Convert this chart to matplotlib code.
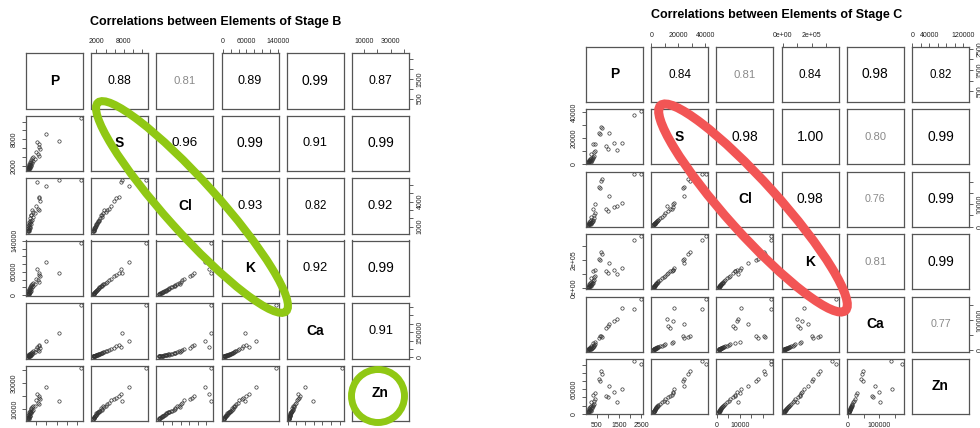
import numpy as np
import matplotlib.pyplot as plt
from matplotlib.patches import Ellipse

plt.rcParams['font.family'] = ['Liberation Sans', 'DejaVu Sans']

W, H = 980, 428  # figure size in pixels
elements = ['P', 'S', 'Cl', 'K', 'Ca', 'Zn']

# ---- Stage B samples ----
b_P = [2690, 985, 1617, 530, 660, 620, 700, 500, 570, 650, 370, 290, 440, 230, 330, 260, 180, 310,
       220, 150, 270, 200, 130, 240, 170, 120, 210, 140, 190, 115, 160, 125, 145, 110, 135, 120]
b_S = [12900, 9200, 7600, 7300, 7000, 6300, 5900, 5100, 4700, 4300, 4000, 3700, 3500, 3300, 3100, 2900, 2800, 2600,
       2500, 2400, 2300, 2200, 2100, 2000, 1900, 1850, 1750, 1700, 1600, 1550, 1500, 1450, 1400, 1350, 1320, 1300]
b_Cl = [6580, 5880, 6550, 6300, 4570, 4370, 4090, 3440, 3150, 3000, 2800, 2950, 2600, 2350, 2200, 2400, 2000, 1850,
        1700, 1550, 1650, 1450, 1300, 1350, 1200, 1100, 1000, 950, 850, 800, 700, 650, 560, 500, 450, 420]
b_K = [135500, 84000, 56000, 66000, 58000, 52000, 48000, 42000, 38000, 34000, 31000, 29000, 27500, 26000, 24000,
       22500, 21000, 19500, 18000, 16500, 15500, 14000, 12500, 11500, 10500, 9500, 8500, 7500, 6500, 5800, 5000,
       4300, 3600, 3100, 2800, 2700]
b_Ca = [312000, 100000, 148000, 60000, 72000, 66000, 58000, 52000, 46000, 41000, 36000, 33000, 31000, 29000, 27000,
        25000, 23000, 21500, 20000, 18500, 17500, 16000, 15000, 14000, 13000, 12000, 11000, 10000, 9200, 8500, 7800,
        7200, 6800, 6500, 6300, 6200]
b_Zn = [42000, 27400, 16300, 21500, 20500, 19000, 18200, 16800, 15000, 14200, 12500, 11600, 12200, 10400, 9800,
        10800, 9000, 8700, 8200, 7600, 7900, 7000, 6500, 6800, 6000, 5600, 5200, 4900, 4500, 4200, 3900, 3600, 3300,
        3000, 2800, 2600]

# correlations printed in the upper panels, row by row
b_cor = [[0.88, 0.81, 0.89, 0.99, 0.87],
         [0.96, 0.99, 0.91, 0.99],
         [0.93, 0.82, 0.92],
         [0.92, 0.99],
         [0.91]]

b_ticks = [[500, 1000, 1500, 2000, 2500],
           [2000, 4000, 6000, 8000, 10000, 12000],
           [1000, 2000, 3000, 4000, 5000, 6000],
           [0, 20000, 40000, 60000, 80000, 100000, 120000, 140000],
           [0, 50000, 100000, 150000, 200000, 250000, 300000],
           [10000, 20000, 30000, 40000]]
b_xlab = [['500', '', '1500', '', ''],
          ['2000', '', '', '8000', '', ''],
          ['1000', '', '', '4000', '', ''],
          ['0', '', '', '60000', '', '', '', '140000'],
          ['0', '', '', '150000', '', '', ''],
          ['10000', '', '30000', '']]
b_ylab = b_xlab

# ---- Stage C samples ----
c_P = [2490, 2180, 690, 710, 600, 640, 1045, 1620, 1270, 1430, 900, 1000, 410, 320, 430, 350, 250, 380,
       300, 220, 330, 180, 260, 150, 280, 200, 130, 240, 170, 120, 210, 140, 110, 160, 105, 100]
c_S = [40600, 37500, 29000, 27500, 24000, 23500, 23900, 16600, 16000, 11200, 13900, 12000, 15800, 15300, 10000,
       9000, 8000, 6500, 5200, 4800, 4400, 4000, 3700, 3400, 3100, 2900, 2700, 2500, 2300, 2150, 2000, 1900, 1800,
       1700, 1500, 1400]
c_Cl = [23600, 23400, 20300, 21100, 17700, 17100, 13700, 10600, 8850, 9300, 7800, 7200, 10000, 8000, 6000, 5200,
        4400, 3800, 3200, 2900, 2700, 2500, 2300, 2100, 1950, 1800, 1650, 1500, 1400, 1300, 1200, 1100, 1050, 980,
        900, 850]
c_K = [370000, 340000, 255000, 245000, 205000, 200000, 175000, 143000, 130000, 100000, 120000, 105000, 128000,
       118000, 85000, 78000, 70000, 58000, 47000, 42000, 39000, 35000, 32000, 29000, 26000, 24000, 21000, 19000,
       16000, 14000, 12000, 10000, 8500, 7200, 6200, 5700]
c_Ca = [171000, 138000, 46000, 44000, 42000, 47000, 86000, 140000, 97000, 103000, 75000, 79000, 28000, 25000,
        22000, 18000, 15000, 13000, 12000, 11000, 10000, 9000, 8500, 7500, 7000, 6000, 5500, 5000, 4500, 4000,
        3500, 3200, 3000, 2800, 2500, 2400]
c_Zn = [121000, 128600, 105000, 97700, 83700, 80500, 68000, 60500, 52500, 28000, 43000, 40000, 50000, 45000,
        36000, 32000, 29000, 25000, 22000, 20000, 18500, 17000, 15500, 14500, 13000, 12000, 11000, 10000, 9000,
        8000, 7200, 6500, 5800, 5200, 4800, 4500]

c_cor = [[0.84, 0.81, 0.84, 0.98, 0.82],
         [0.98, 1.00, 0.80, 0.99],
         [0.98, 0.76, 0.99],
         [0.81, 0.99],
         [0.77]]

c_ticks = [[500, 1000, 1500, 2000, 2500],
           [0, 10000, 20000, 30000, 40000],
           [0, 5000, 10000, 15000, 20000],
           [0, 100000, 200000, 300000],
           [0, 50000, 100000, 150000],
           [0, 20000, 40000, 60000, 80000, 100000, 120000]]
c_xlab = [['500', '', '1500', '', '2500'],
          ['0', '', '20000', '', '40000'],
          ['0', '', '10000', '', ''],
          ['0e+00', '', '2e+05', ''],
          ['0', '', '100000', ''],
          ['0', '', '40000', '', '', '', '120000']]
c_ylab = [['500', '', '1500', '', '2500'],
          ['0', '', '20000', '', '40000'],
          ['0', '', '10000', '', ''],
          ['0e+00', '', '2e+05', ''],
          ['0', '', '100000', ''],
          ['0', '', '', '60000', '', '', '']]


def pad_lim(v):
    # R style axis range: 4% extra on both sides
    lo, hi = min(v), max(v)
    r = hi - lo
    return lo - 0.04 * r, hi + 0.04 * r


def add_px_axes(fig, left, top, w, h):
    return fig.add_axes([left / W, 1 - (top + h) / H, w / W, h / H])


def pairs_panel(fig, data, cor, ticks, xlab, ylab, x0, y0, w, h, dx, dy):
    n = len(data)
    lims = [pad_lim(v) for v in data]
    for i in range(n):
        for j in range(n):
            ax = add_px_axes(fig, x0 + j * dx, y0 + i * dy, w, h)
            for sp in ax.spines.values():
                sp.set_color('#555555')
                sp.set_linewidth(0.9)
            ax.set_xticks([])
            ax.set_yticks([])
            if i > j:
                ax.plot(data[j], data[i], 'o', ms=2.4, mfc='none', mec='#333333', mew=0.5)
            elif i == j:
                ax.text(0.5, 0.5, elements[i], transform=ax.transAxes, ha='center', va='center',
                        fontsize=10, fontweight='bold')
            else:
                r = cor[i][j - i - 1]
                col = '#8a8a8a' if r < 0.82 else 'black'
                ax.text(0.5, 0.5, '%.2f' % r, transform=ax.transAxes, ha='center', va='center',
                        fontsize=10.1 * r, color=col)
            # axes on alternating sides, like R pairs()
            if i == 0 and j % 2 == 1:
                ax.set_xticks(ticks[j])
                ax.set_xticklabels(xlab[j])
                ax.tick_params(axis='x', bottom=False, labelbottom=False, top=True, labeltop=True)
            if i == n - 1 and j % 2 == 0:
                ax.set_xticks(ticks[j])
                ax.set_xticklabels(xlab[j])
            if j == 0 and i % 2 == 1:
                ax.set_yticks(ticks[i])
                ax.set_yticklabels(ylab[i])
            if j == n - 1 and i % 2 == 0:
                ax.set_yticks(ticks[i])
                ax.set_yticklabels(ylab[i])
                ax.tick_params(axis='y', left=False, labelleft=False, right=True, labelright=True)
            ax.tick_params(length=3.1, width=0.6, color='#444444', labelsize=5, pad=2.6,
                           labelcolor='#222222')
            ax.tick_params(axis='y', labelrotation=90)
            for tk in ax.yaxis.get_major_ticks():
                tk.label1.set_va('center')
                tk.label2.set_va('center')
            ax.set_xlim(lims[j])
            ax.set_ylim(lims[i])


fig = plt.figure(figsize=(W / 100, H / 100), dpi=100)

stage_b = [b_P, b_S, b_Cl, b_K, b_Ca, b_Zn]
stage_c = [c_P, c_S, c_Cl, c_K, c_Ca, c_Zn]

pairs_panel(fig, stage_b, b_cor, b_ticks, b_xlab, b_ylab, 26, 53, 57, 55.5, 65.2, 62.5)
pairs_panel(fig, stage_c, c_cor, c_ticks, c_xlab, c_ylab, 586, 47, 57, 55, 65.2, 62.4)

fig.text(216 / W, 1 - 22 / H, 'Correlations between Elements of Stage B', ha='center', va='center',
         fontsize=9, fontweight='bold')
fig.text(777 / W, 1 - 15 / H, 'Correlations between Elements of Stage C', ha='center', va='center',
         fontsize=9, fontweight='bold')

# hand drawn highlight marks on top, in pixel coordinates
ov = fig.add_axes([0, 0, 1, 1])
ov.set_xlim(0, W)
ov.set_ylim(H, 0)
ov.axis('off')
green = '#90C814'
ov.add_patch(Ellipse((192, 207), 281, 52, angle=48, fill=False, ec=green, lw=5.8))
ov.add_patch(Ellipse((378, 396), 53, 53, fill=False, ec=green, lw=5.0))
ov.add_patch(Ellipse((753, 208), 276, 52, angle=48, fill=False, ec='#F25555', lw=6.5))

fig.savefig('out.png', dpi=100)
